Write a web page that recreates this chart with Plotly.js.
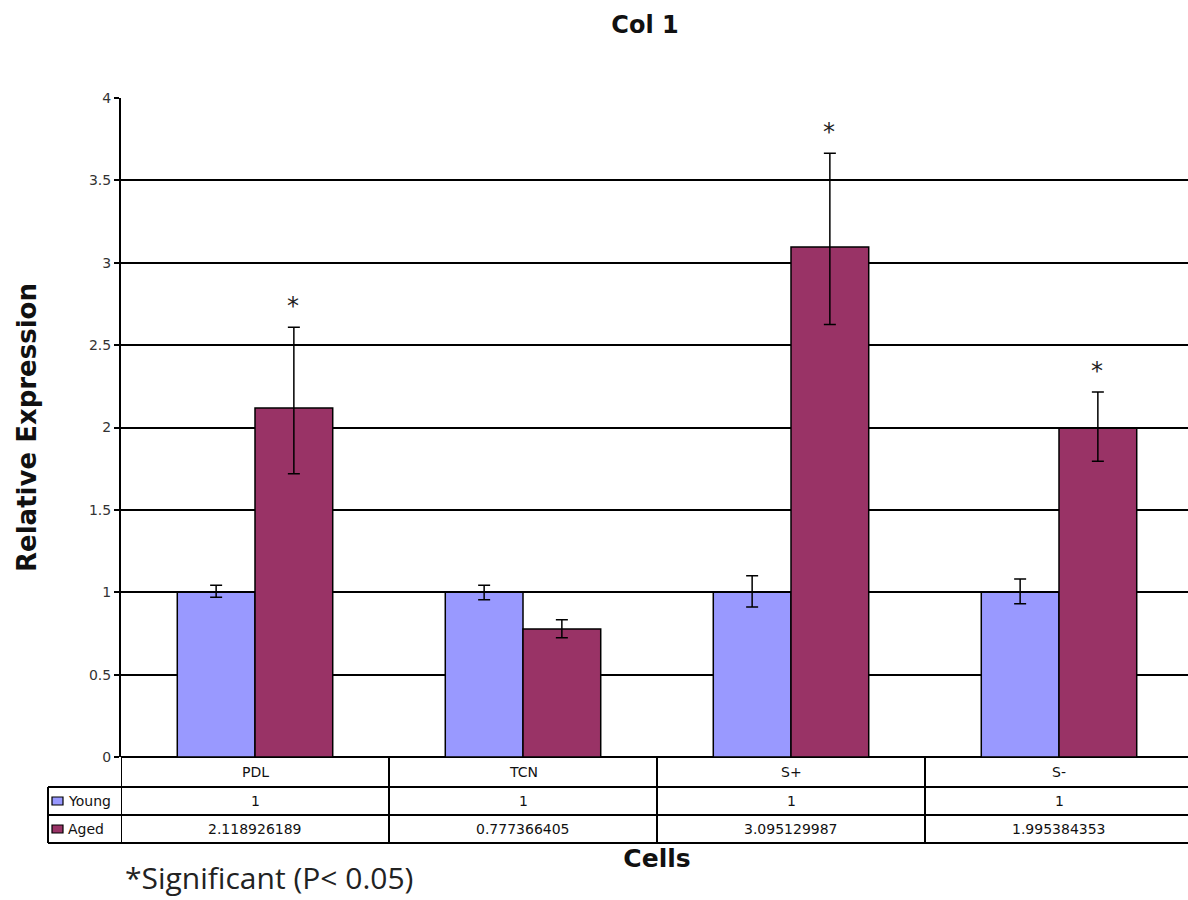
<!DOCTYPE html>
<html>
<head>
<meta charset="utf-8">
<script src="https://cdn.plot.ly/plotly-3.0.1.min.js"></script>
<style>
html, body { margin: 0; padding: 0; overflow: hidden; background: #fff; }
#chart { width: 1200px; height: 900px; }
</style>
</head>
<body>
<div id="chart"></div>
<script>
// ---- data ----
const categories = ["PDL", "TCN", "S+", "S-"];
const youngValues = [1, 1, 1, 1];
const agedValues = [2.118926189, 0.777366405, 3.095129987, 1.995384353];
const youngErrPlus = [0.043, 0.042, 0.10, 0.08];
const youngErrMinus = [0.03, 0.045, 0.09, 0.07];
const agedErrPlus = [0.49, 0.056, 0.57, 0.22];
const agedErrMinus = [0.40, 0.053, 0.47, 0.20];
const significant = [true, false, true, true];
const seriesNames = ["Young", "Aged"];
const yTickVals = [0, 0.5, 1, 1.5, 2, 2.5, 3, 3.5, 4];
const yTickText = ["0", "0.5", "1", "1.5", "2", "2.5", "3", "3.5", "4"];

// ---- layout geometry (pixels) ----
const W = 1200, H = 900;
const L = 121, R = 1193, T = 98, B = 757;
const plotW = R - L, plotH = B - T;
const py = p => (B - p) / plotH;   // pixel y -> paper y
const pxp = p => (p - L) / plotW;  // pixel x -> paper x

const youngColor = "#9999FF";
const agedColor = "#993366";
const sans = "DejaVu Sans, Arial, sans-serif";

const traces = [
  {
    type: "bar", name: seriesNames[0], x: categories, y: youngValues,
    marker: { color: youngColor, line: { color: "#000", width: 1.5 } },
    error_y: { type: "data", symmetric: false, array: youngErrPlus, arrayminus: youngErrMinus,
               color: "#000", thickness: 1.5, width: 6 },
    hoverinfo: "x+y"
  },
  {
    type: "bar", name: seriesNames[1], x: categories, y: agedValues,
    marker: { color: agedColor, line: { color: "#000", width: 1.5 } },
    error_y: { type: "data", symmetric: false, array: agedErrPlus, arrayminus: agedErrMinus,
               color: "#000", thickness: 1.5, width: 6 },
    hoverinfo: "x+y"
  }
];

const shapes = [];
const annotations = [];
const tableFont = { family: sans, size: 14, color: "#111" };

// table horizontal lines
const rowLines = [787, 815, 843];
rowLines.forEach(p => {
  shapes.push({ type: "line", xref: "paper", yref: "paper", x0: pxp(48), x1: pxp(R), y0: py(p), y1: py(p),
                line: { color: "#000", width: 2 } });
});
// table vertical lines at category boundaries
for (let i = 0; i <= categories.length; i++) {
  shapes.push({ type: "line", xref: "x", yref: "paper", x0: i - 0.5, x1: i - 0.5, y0: py(B), y1: py(843),
                line: { color: "#000", width: 2 } });
}
// legend column left border
shapes.push({ type: "line", xref: "paper", yref: "paper", x0: pxp(48), x1: pxp(48), y0: py(787), y1: py(843),
              line: { color: "#000", width: 2 } });
// legend keys
[[youngColor, 801], [agedColor, 829]].forEach(([c, cy]) => {
  shapes.push({ type: "rect", xref: "paper", yref: "paper", x0: pxp(52), x1: pxp(63), y0: py(cy + 4), y1: py(cy - 4),
                fillcolor: c, line: { color: "#000", width: 1.2 } });
});
// legend labels
seriesNames.forEach((n, k) => {
  annotations.push({ text: n, xref: "paper", yref: "paper", x: pxp(66), y: py(k === 0 ? 801 : 829),
                     xanchor: "left", yanchor: "middle", showarrow: false, font: tableFont });
});
// table cells
categories.forEach((c, i) => {
  annotations.push({ text: c, xref: "x", yref: "paper", x: c, y: py(772), showarrow: false,
                     xanchor: "center", yanchor: "middle", font: tableFont });
  annotations.push({ text: String(youngValues[i]), xref: "x", yref: "paper", x: c, y: py(801), showarrow: false,
                     xanchor: "center", yanchor: "middle", font: tableFont });
  annotations.push({ text: String(agedValues[i]), xref: "x", yref: "paper", x: c, y: py(829), showarrow: false,
                     xanchor: "center", yanchor: "middle", font: tableFont });
  if (significant[i]) {
    annotations.push({ text: "*", xref: "x", yref: "y", x: c, y: agedValues[i] + agedErrPlus[i],
                       xshift: 38, yshift: 21, showarrow: false, xanchor: "center", yanchor: "middle",
                       font: { family: sans, size: 24, color: "#222" } });
  }
});
// footnote
annotations.push({ text: "*Significant (P< 0.05)", xref: "paper", yref: "paper", x: pxp(123), y: py(877),
                   xanchor: "left", yanchor: "middle", showarrow: false,
                   font: { family: "Open Sans, Noto Sans, sans-serif", size: 30, color: "#222" } });

const layout = {
  width: W, height: H,
  margin: { l: L, r: W - R, t: T, b: H - B, pad: 0 },
  paper_bgcolor: "#fff", plot_bgcolor: "#fff",
  showlegend: false,
  barmode: "group", bargap: 0.42, bargroupgap: 0,
  title: { text: "<b>Col 1</b>", x: 645 / W, xref: "container", xanchor: "center",
           y: 1 - 25 / H, yref: "container", yanchor: "middle",
           font: { family: sans, size: 24, color: "#111" } },
  xaxis: {
    type: "category", showticklabels: false, ticks: "", showgrid: false, zeroline: false,
    showline: false, range: [-0.5, 3.5], fixedrange: true,
    title: { text: "<b>Cells</b>", standoff: 92,
             font: { family: sans, size: 25, color: "#111" } },
    automargin: false
  },
  yaxis: {
    range: [0, 4], tickvals: yTickVals, ticktext: yTickText,
    ticks: "outside", ticklen: 5, tickwidth: 2, tickcolor: "#000",
    showgrid: true, gridcolor: "#000", gridwidth: 2,
    zeroline: true, zerolinecolor: "#000", zerolinewidth: 2,
    showline: true, linecolor: "#000", linewidth: 2,
    tickfont: { family: sans, size: 14, color: "#333" },
    title: { text: "<b>Relative Expression</b>", standoff: 45,
             font: { family: sans, size: 26, color: "#111" } },
    automargin: false, fixedrange: true
  },
  shapes: shapes,
  annotations: annotations
};

Plotly.newPlot("chart", traces, layout, { displayModeBar: false, staticPlot: true });
</script>
</body>
</html>
